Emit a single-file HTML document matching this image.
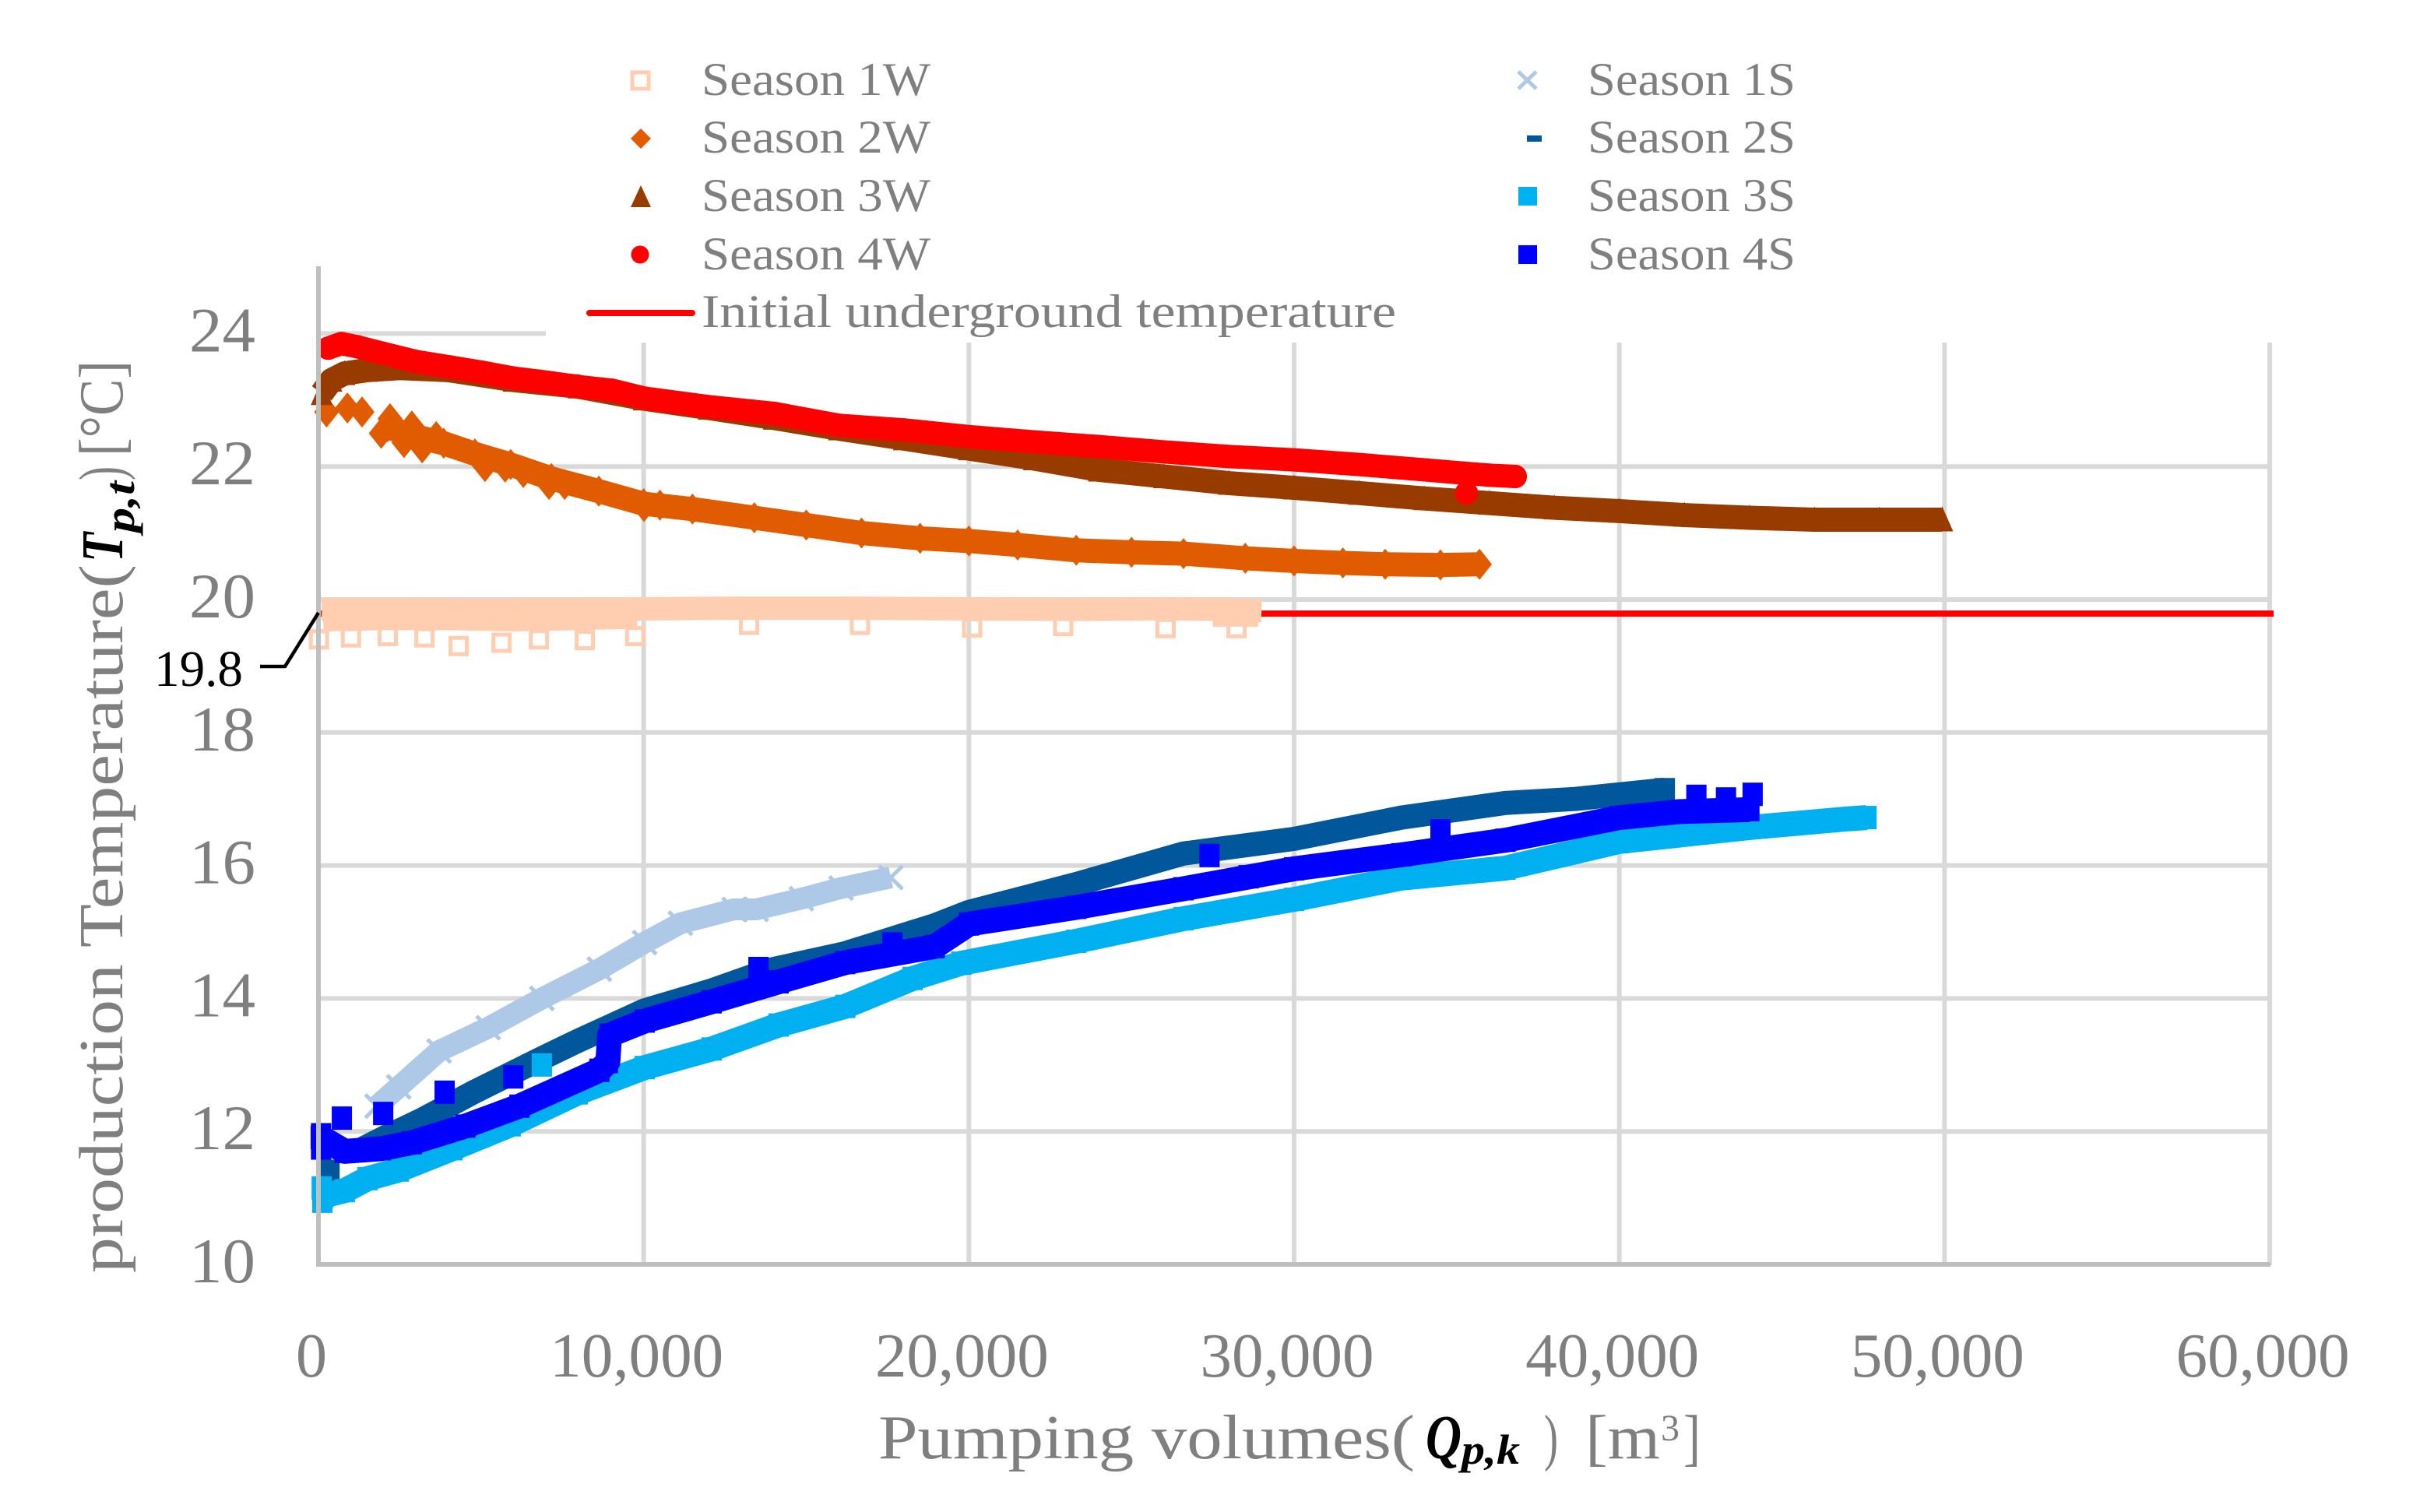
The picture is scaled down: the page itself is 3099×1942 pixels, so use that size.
<!DOCTYPE html>
<html lang="en">
<head>
<meta charset="utf-8">
<title>Production temperature vs pumping volumes</title>
<style>
html,body{margin:0;padding:0;background:#fff;}
svg{display:block;}
text{font-family:"Liberation Serif",serif;fill:#7f7f7f;}
.math{fill:#000;font-style:italic;font-weight:bold;}
</style>
</head>
<body>
<svg id="chart" xmlns="http://www.w3.org/2000/svg" width="3099" height="1942" viewBox="0 0 3099 1942">
  <rect x="0" y="0" width="3099" height="1942" fill="#fff"/>
  <g id="grid"></g>
  <g id="series"></g>
  <rect x="701" y="0" width="2398" height="437" fill="#fff"/>
  <g id="axes"></g>
  <g id="ticks"></g>

  <g>
    <text transform="translate(157 1635) rotate(-90)" font-size="80" textLength="910" lengthAdjust="spacingAndGlyphs">production Temperature(</text>
    <text class="math" transform="translate(157 722) rotate(-90)" font-size="76" textLength="38" lengthAdjust="spacingAndGlyphs">T</text>
    <text class="math" transform="translate(172 684) rotate(-90)" font-size="54" textLength="66" lengthAdjust="spacingAndGlyphs">p,t</text>
    <text transform="translate(157 617) rotate(-90)" font-size="80" textLength="18" lengthAdjust="spacingAndGlyphs">)</text>
    <text transform="translate(157 586) rotate(-90)" font-size="80" textLength="123" lengthAdjust="spacingAndGlyphs">[°C]</text>
  </g>

  <g>
    <text x="1128" y="1873" font-size="80" textLength="689" lengthAdjust="spacingAndGlyphs">Pumping volumes(</text>
    <text class="math" x="1831" y="1873" font-size="80" textLength="46" lengthAdjust="spacingAndGlyphs">Q</text>
    <text class="math" x="1877" y="1880" font-size="54" textLength="75" lengthAdjust="spacingAndGlyphs">p,k</text>
    <text x="1983" y="1873" font-size="80" textLength="18" lengthAdjust="spacingAndGlyphs">)</text>
    <text x="2036" y="1873" font-size="80" textLength="96" lengthAdjust="spacingAndGlyphs">[m</text>
    <text x="2133" y="1850" font-size="48" textLength="24" lengthAdjust="spacingAndGlyphs">3</text>
    <text x="2162" y="1873" font-size="80" textLength="22" lengthAdjust="spacingAndGlyphs">]</text>
  </g>

  <g>
    <text x="198" y="881" font-size="66" textLength="114" lengthAdjust="spacingAndGlyphs" style="fill:#000">19.8</text>
    <polyline points="334,856 366,856 409,787" fill="none" stroke="#000" stroke-width="4.5"/>
  </g>

  <g>
    <rect x="812" y="93" width="21" height="21" fill="none" stroke="#ffcdb0" stroke-width="5"/>
    <text x="901" y="122" font-size="60" textLength="294" lengthAdjust="spacingAndGlyphs">Season 1W</text>
    <polygon points="823,165 836,178 823,191 810,178" fill="#e15c01"/>
    <text x="901" y="196" font-size="60" textLength="294" lengthAdjust="spacingAndGlyphs">Season 2W</text>
    <polygon points="823,238 836,266 810,266" fill="#983b00"/>
    <text x="901" y="271" font-size="60" textLength="294" lengthAdjust="spacingAndGlyphs">Season 3W</text>
    <circle cx="822" cy="327" r="11.5" fill="#ff0000"/>
    <text x="901" y="346" font-size="60" textLength="294" lengthAdjust="spacingAndGlyphs">Season 4W</text>
    <line x1="757" y1="402" x2="889" y2="402" stroke="#ff0000" stroke-width="8" stroke-linecap="round"/>
    <text x="901" y="420" font-size="60" textLength="892" lengthAdjust="spacingAndGlyphs">Initial underground temperature</text>

    <path d="M1950 92L1973 114M1973 92L1950 114" fill="none" stroke="#aec8e8" stroke-width="5"/>
    <text x="2039" y="122" font-size="60" textLength="267" lengthAdjust="spacingAndGlyphs">Season 1S</text>
    <rect x="1961" y="174" width="19" height="8" fill="#01579b"/>
    <text x="2039" y="196" font-size="60" textLength="267" lengthAdjust="spacingAndGlyphs">Season 2S</text>
    <rect x="1950" y="240" width="24" height="24" fill="#00b0f0"/>
    <text x="2039" y="271" font-size="60" textLength="267" lengthAdjust="spacingAndGlyphs">Season 3S</text>
    <rect x="1950" y="315" width="24" height="24" fill="#0000ff"/>
    <text x="2039" y="346" font-size="60" textLength="267" lengthAdjust="spacingAndGlyphs">Season 4S</text>
  </g>
</svg>

<script>
// ---- axis data ----
var xTickValues = [0, 10000, 20000, 30000, 40000, 50000, 60000];
var xTickLabels = ["0", "10,000", "20,000", "30,000", "40,000", "50,000", "60,000"];
var yTickValues = [10, 12, 14, 16, 18, 20, 22, 24];
var yTickLabels = ["10", "12", "14", "16", "18", "20", "22", "24"];

// ---- initial underground temperature ----
var initialTempX = [0, 60000];
var initialTempY = [19.8, 19.8];

// ---- Season 1W ----
var s1wX = [100, 1000, 3000, 5000, 8000, 10000, 13000, 16000, 20000, 23000, 26000, 28000, 29000];
var s1wY = [19.85, 19.85, 19.85, 19.84, 19.85, 19.86, 19.87, 19.87, 19.86, 19.85, 19.86, 19.85, 19.83];
var s1wLowerX = [150, 2000, 4000, 6000, 8000, 9800];
var s1wLowerY = [19.66, 19.68, 19.68, 19.66, 19.68, 19.7];
var s1wTailX = [27500, 28900];
var s1wTailY = [19.72, 19.72];
var s1wOutX = [15, 1000, 2130, 3260, 4310, 5630, 6780, 8190, 9740, 13240, 16650, 20100, 22900, 26050, 28230];
var s1wOutY = [19.4, 19.43, 19.45, 19.43, 19.3, 19.35, 19.4, 19.39, 19.45, 19.62, 19.62, 19.58, 19.6, 19.57, 19.57];

// ---- Season 2W ----
var s2wX = [2130, 2750, 3850, 4810, 5910, 7160, 8620, 10000, 11500, 13400, 15000, 16700, 18500, 20000, 21500, 23300, 25000, 26600, 28500, 30000, 31500, 32800, 34500, 35700];
var s2wY = [22.6, 22.48, 22.35, 22.19, 22.03, 21.82, 21.63, 21.44, 21.36, 21.23, 21.12, 21.0, 20.92, 20.88, 20.82, 20.74, 20.71, 20.69, 20.62, 20.58, 20.55, 20.53, 20.52, 20.53];
var s2wOutX = [250, 890, 1340, 1930, 2630, 3190, 5120, 5740, 6300, 7090, 7570, 10010, 10500, 2200, 2870, 3620];
var s2wOutY = [22.82, 22.88, 22.82, 22.5, 22.36, 22.28, 22.0, 21.99, 21.91, 21.73, 21.73, 21.4, 21.42, 22.72, 22.61, 22.45];

// ---- Season 3W ----
var s3wX = [100, 400, 800, 1500, 2500, 4000, 6000, 8000, 10000, 12000, 14000, 16000, 18000, 20000, 22000, 24000, 26000, 28000, 30000, 32000, 34000, 36000, 38000, 40000, 42000, 44000, 46000, 48000, 49930];
var s3wY = [23.1, 23.3, 23.4, 23.45, 23.48, 23.45, 23.3, 23.2, 23.02, 22.88, 22.73, 22.57, 22.42, 22.27, 22.12, 21.95, 21.85, 21.75, 21.68, 21.6, 21.52, 21.45, 21.38, 21.33, 21.27, 21.23, 21.2, 21.2, 21.2];

// ---- Season 4W ----
var s4wX = [300, 700, 1200, 2000, 3000, 4000, 5000, 6000, 7000, 8000, 9000, 10000, 12000, 14000, 16000, 18000, 20000, 22000, 24000, 26000, 28000, 30000, 32000, 34000, 35200, 36000, 36800];
var s4wY = [23.78, 23.85, 23.8, 23.7, 23.58, 23.5, 23.42, 23.33, 23.27, 23.2, 23.15, 23.03, 22.9, 22.8, 22.62, 22.55, 22.45, 22.37, 22.3, 22.22, 22.15, 22.1, 22.03, 21.95, 21.9, 21.87, 21.85];
var s4wOutX = [35300];
var s4wOutY = [21.6];

// ---- Season 1S ----
var s1sX = [1800, 2470, 3710, 5220, 6870, 8640, 10030, 11130, 12780, 13460, 14850, 16070, 17600];
var s1sY = [12.38, 12.67, 13.21, 13.56, 14.0, 14.44, 14.84, 15.13, 15.34, 15.34, 15.5, 15.66, 15.82];

// ---- Season 2S ----
var s2sX = [1200, 2000, 3160, 4810, 6870, 7970, 10030, 12090, 13880, 16200, 18950, 20000, 23300, 26600, 30000, 33300, 36500, 38640, 41400];
var s2sY = [11.7, 11.9, 12.17, 12.6, 13.1, 13.36, 13.82, 14.12, 14.43, 14.68, 15.1, 15.3, 15.72, 16.18, 16.4, 16.72, 16.94, 17.0, 17.14];
var s2sOutX = [340];
var s2sOutY = [11.4];

// ---- Season 3S ----
var s3sX = [150, 810, 1510, 2470, 4120, 5910, 7970, 10030, 12090, 14150, 16200, 18270, 19770, 23300, 26600, 30000, 33300, 36500, 40000, 44000, 47000, 47600];
var s3sY = [11.03, 11.11, 11.29, 11.42, 11.74, 12.1, 12.58, 12.96, 13.24, 13.6, 13.88, 14.3, 14.53, 14.86, 15.2, 15.49, 15.81, 15.96, 16.36, 16.57, 16.7, 16.72];
var s3sOutX = [6870, 100, 120];
var s3sOutY = [13.0, 11.15, 10.95];

// ---- Season 4S ----
var s4sX = [70, 810, 1920, 2870, 4520, 6180, 8640, 8900, 8950, 10030, 12090, 14150, 16200, 18950, 20000, 23300, 26600, 30000, 33300, 36500, 40000, 41850, 44000];
var s4sY = [11.91, 11.7, 11.74, 11.83, 12.08, 12.38, 12.92, 13.05, 13.45, 13.66, 13.95, 14.25, 14.54, 14.78, 15.12, 15.37, 15.65, 15.95, 16.16, 16.38, 16.72, 16.81, 16.84];
var s4sOutX = [80, 80, 720, 1990, 3880, 5990, 13530, 17650, 27400, 28600, 34500, 42370, 43280, 44100];
var s4sOutY = [11.95, 11.75, 12.2, 12.27, 12.59, 12.82, 14.45, 14.82, 16.15, 15.83, 16.52, 17.04, 17.0, 17.07];

// ---- axis functions ----
var SVGNS = "http://www.w3.org/2000/svg";
function sx(v) { return 409 + v / 60000 * 2506; }
function sy(v) { return 1624 - (v - 10) * 85.4; }

function make(tag, parent, attrs) {
  var el = document.createElementNS(SVGNS, tag);
  for (var k in attrs) { el.setAttribute(k, attrs[k]); }
  parent.appendChild(el);
  return el;
}

var gridLayer = document.getElementById("grid");
var axesLayer = document.getElementById("axes");
var tickLayer = document.getElementById("ticks");
var seriesLayer = document.getElementById("series");

// gridlines
yTickValues.forEach(function (v) {
  if (v === 10) { return; }
  var line = make("line", gridLayer, { x1: sx(0), y1: sy(v), x2: sx(60000) + 3, y2: sy(v), stroke: "#d9d9d9", "stroke-width": 6 });
  
  
});
xTickValues.forEach(function (v) {
  if (v === 0) { return; }
  var line = make("line", gridLayer, { x1: sx(v), y1: 440, x2: sx(v), y2: 1625, stroke: "#d9d9d9", "stroke-width": 6 });
  
  
});

// axes
var yAxis = make("line", axesLayer, { x1: sx(0), y1: 342, x2: sx(0), y2: 1627, stroke: "#bfbfbf", "stroke-width": 6 });


var xAxis = make("line", axesLayer, { x1: 406, y1: sy(10), x2: 2916, y2: sy(10), stroke: "#bfbfbf", "stroke-width": 6 });



// tick labels
xTickValues.forEach(function (v, i) {
  var wide = xTickLabels[i].length > 1;
  var t = make("text", tickLayer, { x: sx(v) - 9, y: 1768, "font-size": 80, "text-anchor": "middle" });
  if (wide) { t.setAttribute("textLength", 223); t.setAttribute("lengthAdjust", "spacingAndGlyphs"); }
  t.textContent = xTickLabels[i];
  
  
});
yTickValues.forEach(function (v, i) {
  var t = make("text", tickLayer, { x: 243, y: sy(v) + 23, "font-size": 82, textLength: 85, lengthAdjust: "spacingAndGlyphs" });
  t.textContent = yTickLabels[i];
  
  
});

// markers
function drawMarker(g, kind, color, vx, vy) {
  var cx = sx(vx), cy = sy(vy), m;
  if (kind === "hollow") {
    m = make("rect", g, { x: cx - 10.5, y: cy - 10.5, width: 21, height: 21, fill: "none", stroke: color, "stroke-width": 5 });
  } else if (kind === "diamond") {
    m = make("polygon", g, { points: [cx, cy - 20, cx + 16, cy, cx, cy + 20, cx - 16, cy].join(","), fill: color });
  } else if (kind === "triangle") {
    m = make("polygon", g, { points: [cx, cy - 17, cx + 14, cy + 15, cx - 14, cy + 15].join(","), fill: color });
  } else if (kind === "circle") {
    m = make("circle", g, { cx: cx, cy: cy, r: 15, fill: color });
  } else if (kind === "cross") {
    m = make("path", g, { d: "M" + (cx - 15) + " " + (cy - 15) + "L" + (cx + 15) + " " + (cy + 15) + "M" + (cx + 15) + " " + (cy - 15) + "L" + (cx - 15) + " " + (cy + 15), fill: "none", stroke: color, "stroke-width": 5 });
  } else {
    m = make("rect", g, { x: cx - 13, y: cy - 15, width: 26, height: 30, fill: color });
  }
  
  
}

function drawBand(g, xs, ys, color, width, cap) {
  var pts = xs.map(function (v, i) { return sx(v) + "," + sy(ys[i]); }).join(" ");
  var band = make("polyline", g, { points: pts, fill: "none", stroke: color, "stroke-width": width, "stroke-linejoin": "round", "stroke-linecap": cap });
  
  
}

function drawPoints(g, xs, ys, kind, color) {
  xs.forEach(function (v, i) { drawMarker(g, kind, color, v, ys[i]); });
}

// initial temperature line
var initLine = make("line", seriesLayer, { x1: sx(initialTempX[0]), y1: sy(initialTempY[0]) + 1, x2: sx(initialTempX[1]) + 5, y2: sy(initialTempY[1]) + 1, stroke: "#ff0000", "stroke-width": 8 });



// Season 1W
var g1w = make("g", seriesLayer, {});


drawBand(g1w, s1wX, s1wY, "#ffcdb0", 30, "butt");
drawBand(g1w, s1wLowerX, s1wLowerY, "#ffcdb0", 24, "butt");
drawBand(g1w, s1wTailX, s1wTailY, "#ffcdb0", 22, "butt");
drawPoints(g1w, s1wOutX, s1wOutY, "hollow", "#ffcdb0");

// Season 2W
var g2w = make("g", seriesLayer, {});


drawBand(g2w, s2wX, s2wY, "#e15c01", 31, "butt");
drawPoints(g2w, s2wX, s2wY, "diamond", "#e15c01");
drawPoints(g2w, s2wOutX, s2wOutY, "diamond", "#e15c01");

// Season 3W
var g3w = make("g", seriesLayer, {});


drawBand(g3w, s3wX, s3wY, "#983b00", 31, "butt");
drawPoints(g3w, s3wX, s3wY, "triangle", "#983b00");

// Season 4W
var g4w = make("g", seriesLayer, {});


drawBand(g4w, s4wX, s4wY, "#ff0000", 30, "round");
drawPoints(g4w, s4wX, s4wY, "circle", "#ff0000");
drawPoints(g4w, s4wOutX, s4wOutY, "circle", "#ff0000");

// Season 1S
var g1s = make("g", seriesLayer, {});


drawBand(g1s, s1sX, s1sY, "#aec8e8", 28, "butt");
drawPoints(g1s, s1sX, s1sY, "cross", "#aec8e8");

// Season 2S
var g2s = make("g", seriesLayer, {});


drawBand(g2s, s2sX, s2sY, "#01579b", 31, "butt");
drawPoints(g2s, s2sOutX, s2sOutY, "square", "#01579b");
drawPoints(g2s, s2sX.slice(-1), s2sY.slice(-1), "square", "#01579b");

// Season 3S
var g3s = make("g", seriesLayer, {});


drawBand(g3s, s3sX, s3sY, "#00b0f0", 32, "butt");
drawPoints(g3s, s3sX, s3sY, "square", "#00b0f0");
drawPoints(g3s, s3sOutX, s3sOutY, "square", "#00b0f0");

// Season 4S
var g4s = make("g", seriesLayer, {});


drawBand(g4s, s4sX, s4sY, "#0000ff", 32, "butt");
drawPoints(g4s, s4sX, s4sY, "square", "#0000ff");
drawPoints(g4s, s4sOutX, s4sOutY, "square", "#0000ff");
</script>
</body>
</html>
